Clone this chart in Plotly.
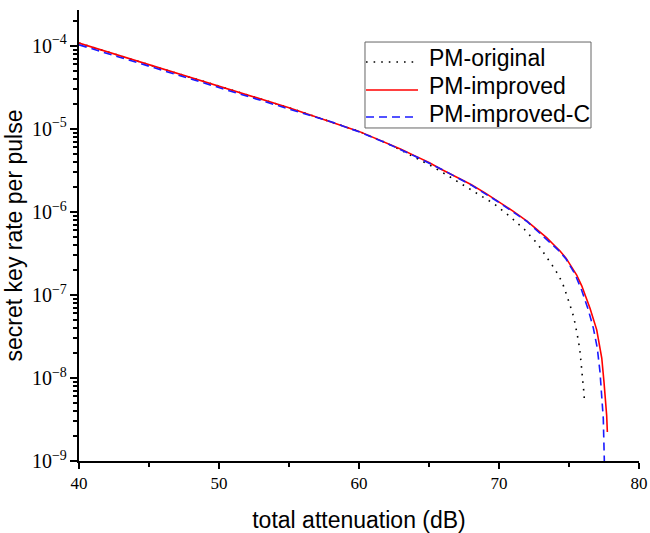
import plotly.graph_objects as go

# data (attenuation in dB, log10 of key rate)
red_db = [40, 45, 50, 55, 60, 62, 63, 64, 65, 65.8, 67, 68, 69, 69.66, 71, 72, 73, 73.4, 74, 74.36, 74.8, 75.19, 75.55, 75.91, 76.5, 76.98, 77.21, 77.34, 77.5, 77.6, 77.69, 77.74]
red_log = [-3.967, -4.225, -4.48, -4.745, -5.03, -5.17, -5.245, -5.325, -5.405, -5.48, -5.58, -5.67, -5.77, -5.84, -5.99, -6.11, -6.25, -6.31, -6.41, -6.47, -6.56, -6.66, -6.76, -6.89, -7.16, -7.42, -7.62, -7.76, -8.05, -8.24, -8.45, -8.65]

blue_db = [40, 45, 50, 55, 58, 60, 62, 64, 66, 68, 70, 72, 74, 74.36, 74.8, 75.19, 75.43, 75.9, 76.38, 76.74, 77.02, 77.21, 77.36, 77.45, 77.52, 77.55]
blue_log = [-3.987, -4.245, -4.50, -4.765, -4.915, -5.035, -5.175, -5.33, -5.495, -5.675, -5.885, -6.115, -6.415, -6.48, -6.57, -6.68, -6.75, -6.94, -7.18, -7.40, -7.64, -7.92, -8.22, -8.49, -8.97, -9.3]

black_db = [40, 45, 50, 55, 60, 62, 63, 64, 65, 66.14, 67.34, 68.52, 69.66, 70.79, 71.81, 72.76, 73.17, 73.59, 73.95, 74.31, 74.6, 74.83, 75.07, 75.26, 75.43, 75.57, 75.69, 75.79, 75.86, 75.93, 76.0, 76.05, 76.1]
black_log = [-3.967, -4.225, -4.48, -4.745, -5.03, -5.172, -5.255, -5.34, -5.43, -5.542, -5.663, -5.783, -5.904, -6.056, -6.209, -6.386, -6.486, -6.578, -6.68, -6.78, -6.888, -7.0, -7.11, -7.22, -7.34, -7.45, -7.57, -7.69, -7.80, -7.92, -8.04, -8.15, -8.27]

names = ["PM-original", "PM-improved", "PM-improved-C"]
colors = ["black", "#ff0000", "#1a1aff"]
dashes = ["1.6px,6px", "solid", "8px,5px"]

def tov(lst):
    return [10 ** v for v in lst]

SANS = "Liberation Sans"
SERIF = "Liberation Serif"

fig = go.Figure()
for xs, ys, nm, c, d in [(black_db, black_log, names[0], colors[0], dashes[0]),
                         (red_db, red_log, names[1], colors[1], dashes[1]),
                         (blue_db, blue_log, names[2], colors[2], dashes[2])]:
    fig.add_trace(go.Scatter(x=xs, y=tov(ys), mode="lines", name=nm,
                             line=dict(color=c, width=1.6, dash=d)))

# legend drawn in paper coordinates (tighter row spacing than plotly's legend)
fig.add_shape(type="rect", xref="paper", yref="paper",
              x0=0.5107, x1=0.9143, y0=0.7384, y1=0.929,
              line=dict(color="#666", width=1), fillcolor="white", layer="above")
row_line_y = [0.8847, 0.8226, 0.7627]
row_text_y = [0.8925, 0.8304, 0.7683]
for i in range(3):
    fig.add_shape(type="line", xref="paper", yref="paper",
                  x0=0.5125, x1=0.6054, y0=row_line_y[i], y1=row_line_y[i],
                  line=dict(color=colors[i], width=1.6, dash=dashes[i]), layer="above")
    fig.add_annotation(xref="paper", yref="paper", x=0.6214, y=row_text_y[i],
                       xanchor="left", yanchor="middle", showarrow=False,
                       text=names[i], font=dict(family=SANS, size=23, color="black"))

fig.update_layout(
    width=650, height=533,
    margin=dict(l=79, r=11, t=10, b=72, autoexpand=False),
    paper_bgcolor="white", plot_bgcolor="white",
    showlegend=False,
    font=dict(family=SANS, color="black"),
)
fig.update_xaxes(
    range=[40, 80], dtick=10, tick0=40, automargin=False,
    showline=True, linecolor="black", linewidth=2,
    ticks="outside", ticklen=6, tickwidth=2, tickcolor="black",
    minor=dict(ticks="outside", ticklen=4, tickwidth=2, tickcolor="black", dtick=5),
    showgrid=False, zeroline=False, mirror=False,
    tickfont=dict(family=SERIF, size=17, color="black"),
    title=dict(text="total attenuation (dB)", standoff=21,
               font=dict(family=SANS, size=23, color="black")),
)
fig.update_yaxes(
    type="log", range=[-9, -3.568], dtick=1, automargin=False,
    exponentformat="power", showexponent="all",
    showline=True, linecolor="black", linewidth=2,
    ticks="outside", ticklen=7, tickwidth=2, tickcolor="black",
    minor=dict(ticks="outside", ticklen=4, tickwidth=2, tickcolor="black", dtick="D1"),
    showgrid=False, zeroline=False, mirror=False,
    tickfont=dict(family=SERIF, size=16, color="black"),
    title=dict(text="secret key rate per pulse", standoff=3,
               font=dict(family=SANS, size=23, color="black")),
)

fig.write_html(
    "out.html",
    config={"displayModeBar": False},
    post_script="document.body.style.margin='0';document.documentElement.style.overflow='hidden';",
)
